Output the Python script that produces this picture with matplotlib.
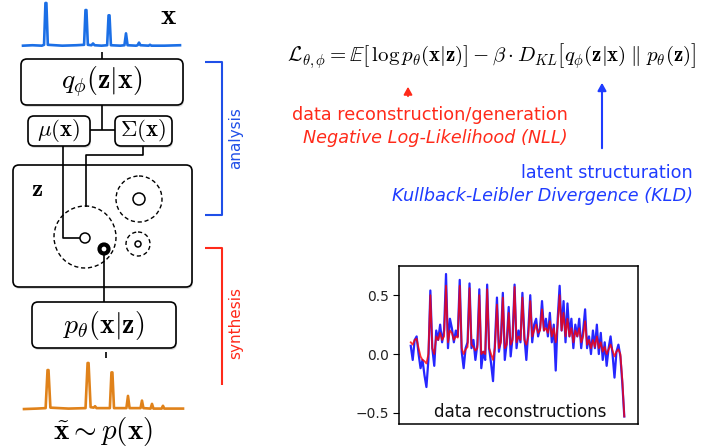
import numpy as np
import matplotlib
matplotlib.use('Agg')
import matplotlib.pyplot as plt
from matplotlib.patches import FancyBboxPatch, Circle

plt.rcParams['mathtext.fontset'] = 'cm'
plt.rcParams['font.family'] = ['DejaVu Sans']

RED = '#ff2a1a'
BLUE = '#1f3cff'

# input spectrum (channel 0..100, normalised intensity)
spec_in_x = [0, 6, 12, 13.4, 14.3, 14.9, 15.8, 25, 34, 38.9, 39.8, 40.4, 41.3,
             43.6, 44.6, 45.6, 50, 53.6, 54.5, 55.1, 56.0, 62, 64.6, 65.6, 66.6,
             72, 73.0, 73.9, 74.8, 80.0, 80.9, 81.8, 90, 100]
spec_in_y = [0.03, 0.04, 0.03, 0.05, 1.0, 1.0, 0.05, 0.03, 0.04, 0.05, 0.84,
             0.84, 0.05, 0.04, 0.08, 0.04, 0.03, 0.04, 0.72, 0.72, 0.04, 0.03,
             0.04, 0.31, 0.04, 0.03, 0.04, 0.1, 0.04, 0.03, 0.05, 0.03, 0.03, 0.04]

# generated spectrum
spec_out_x = [0, 8, 13.6, 14.8, 15.4, 16.6, 28, 38.7, 40.0, 40.6, 41.9, 43.8,
              44.7, 45.6, 54.0, 55.0, 55.6, 56.6, 64.4, 65.4, 66.4, 73.3, 74.2,
              75.1, 79.6, 80.5, 81.4, 86.6, 87.4, 88.2, 94, 100]
spec_out_y = [0.02, 0.03, 0.04, 0.85, 0.85, 0.05, 0.03, 0.04, 1.0, 1.0, 0.06,
              0.05, 0.08, 0.04, 0.04, 0.8, 0.8, 0.04, 0.04, 0.3, 0.04, 0.04,
              0.2, 0.04, 0.03, 0.13, 0.03, 0.03, 0.09, 0.03, 0.03, 0.03]

# reconstruction inset: original (blue) and reconstruction (red)
recon_blue = [0.07, -0.05, 0.12, 0.15, 0.0, -0.12, -0.05, -0.18, -0.28, -0.05,
              0.54, 0.05, -0.1, 0.2, 0.12, 0.25, 0.1, 0.2, 0.68, 0.05,
              0.3, 0.22, 0.1, 0.2, 0.15, 0.63, 0.02, -0.12, 0.05, 0.1,
              0.6, 0.05, 0.12, -0.05, 0.08, 0.55, -0.12, 0.02, -0.05, 0.59,
              0.05, -0.08, -0.23, 0.1, 0.48, 0.02, 0.12, 0.52, -0.05, 0.1,
              0.4, -0.02, 0.15, 0.59, 0.05, 0.2, 0.1, 0.52, 0.15, -0.05,
              0.2, 0.5, 0.1, 0.25, 0.3, 0.15, 0.22, 0.45, 0.2, 0.3,
              0.15, 0.35, 0.1, 0.25, -0.14, 0.3, 0.58, 0.2, 0.45, 0.1,
              0.43, 0.15, 0.3, 0.05, 0.25, 0.15, 0.3, 0.05, 0.2, 0.38,
              0.05, 0.15, 0.0, 0.2, 0.05, 0.25, 0.0, 0.18, -0.05, 0.1,
              -0.1, 0.05, 0.15, 0.0, -0.2, 0.02, 0.08, -0.02, -0.25, -0.53]
recon_red = [0.1, 0.08, 0.12, 0.13, 0.05, -0.02, -0.05, -0.06, -0.08, 0.0,
             0.5, 0.05, 0.0, 0.15, 0.12, 0.18, 0.12, 0.15, 0.58, 0.1,
             0.2, 0.18, 0.12, 0.15, 0.14, 0.58, 0.05, 0.0, 0.04, 0.06,
             0.56, 0.08, 0.06, 0.03, 0.05, 0.5, 0.0, 0.02, 0.0, 0.55,
             0.05, 0.0, -0.05, 0.06, 0.42, 0.05, 0.1, 0.48, 0.05, 0.08,
             0.35, 0.08, 0.12, 0.57, 0.1, 0.15, 0.12, 0.48, 0.12, 0.08,
             0.15, 0.45, 0.15, 0.2, 0.25, 0.18, 0.2, 0.38, 0.2, 0.22,
             0.18, 0.28, 0.15, 0.22, 0.1, 0.25, 0.5, 0.2, 0.35, 0.15,
             0.3, 0.15, 0.22, 0.1, 0.2, 0.15, 0.22, 0.1, 0.15, 0.28,
             0.08, 0.12, 0.05, 0.12, 0.06, 0.15, 0.05, 0.1, 0.02, 0.06,
             0.0, 0.04, 0.08, 0.03, -0.02, 0.02, 0.04, 0.0, -0.22, -0.53]
recon_ticks = [-0.5, 0.0, 0.5]


def box(ax, x0, y0, x1, y1, text, size=15):
    sh = FancyBboxPatch((x0 + 1, y0 + 2), x1 - x0, y1 - y0,
                        boxstyle='round,pad=0,rounding_size=6',
                        fc='#bbbbbb', ec='none', alpha=0.5, zorder=1)
    ax.add_patch(sh)
    p = FancyBboxPatch((x0, y0), x1 - x0, y1 - y0,
                       boxstyle='round,pad=0,rounding_size=6',
                       fc='white', ec='black', lw=1.2, zorder=2)
    ax.add_patch(p)
    if text:
        ax.text((x0 + x1) / 2, (y0 + y1) / 2, text, ha='center', va='center',
                fontsize=size, zorder=3)


def main():
    fig = plt.figure(figsize=(7.06, 4.48), dpi=100)
    ax = fig.add_axes([0, 0, 1, 1])
    ax.set_xlim(0, 706)
    ax.set_ylim(448, 0)
    ax.axis('off')

    def line(xs, ys, **kw):
        kw.setdefault('color', 'black')
        kw.setdefault('lw', 1.2)
        ax.plot(xs, ys, zorder=kw.pop('zorder', 4), solid_capstyle='butt', **kw)

    # encoder / decoder boxes
    box(ax, 21, 59, 183, 105, r'$q_\phi(\mathbf{z}|\mathbf{x})$', 20)
    box(ax, 28, 116, 90, 146, r'$\mu(\mathbf{x})$', 16.5)
    box(ax, 115, 116, 172, 146, r'$\Sigma(\mathbf{x})$', 16.5)
    box(ax, 13, 165, 192, 287, None)
    box(ax, 32, 302, 176, 348, r'$p_\theta(\mathbf{x}|\mathbf{z})$', 20)
    ax.text(37, 189, r'$\mathbf{z}$', fontsize=18, ha='center', va='center', zorder=3)

    line([102, 102], [52, 59])
    line([102, 102], [105, 130])
    line([90, 115], [130, 130])
    line([63, 63, 80], [146, 238, 238])
    line([143, 143, 86, 86], [146, 155, 155, 207])
    line([104, 104], [254, 302])
    line([106, 106], [352, 358])

    # latent space circles
    for cx, cy, r in [(85, 237, 31), (139, 199, 23), (138, 244, 12)]:
        ax.add_patch(Circle((cx, cy), r, fc='none', ec='black', lw=1.0,
                            ls=(0, (3, 2)), zorder=3))
    for cx, cy, r in [(85, 238, 5), (139, 199, 6), (138, 244, 3)]:
        ax.add_patch(Circle((cx, cy), r, fc='white', ec='black', lw=1.1, zorder=5))
    ax.add_patch(Circle((104, 249), 4.5, fc='white', ec='black', lw=3, zorder=5))

    # spectra
    a1 = fig.add_axes([23 / 706, 1 - 47 / 448, 157 / 706, 44 / 448])
    a1.plot(spec_in_x, spec_in_y, color='#1b6fe6', lw=1.9, clip_on=False)
    a1.set_xlim(0, 100)
    a1.set_ylim(0, 1)
    a1.axis('off')
    ax.text(168, 16, r'$\mathbf{x}$', fontsize=21, ha='center', va='center')

    a2 = fig.add_axes([24 / 706, 1 - 410 / 448, 159 / 706, 47 / 448])
    a2.plot(spec_out_x, spec_out_y, color='#e0821a', lw=1.9, clip_on=False)
    a2.set_xlim(0, 100)
    a2.set_ylim(0, 1)
    a2.axis('off')
    ax.text(103, 431, r'$\tilde{\mathbf{x}} \sim p(\mathbf{x})$', fontsize=21,
            ha='center', va='center')

    # brackets
    line([205, 222, 222, 205], [62, 62, 215, 215], color='#1f4fe8', lw=1.5)
    ax.text(236, 138, 'analysis', rotation=90, color='#1f4fe8', fontsize=11,
            ha='center', va='center')
    line([205, 222, 222], [248, 248, 385], color=RED, lw=1.5)
    ax.text(236, 323, 'synthesis', rotation=90, color=RED, fontsize=11,
            ha='center', va='center')

    # objective
    ax.text(492, 56, r'$\mathcal{L}_{\theta,\phi} = \mathbb{E}\left[\,\log p_\theta(\mathbf{x}|\mathbf{z})\right]'
            r' - \beta\cdot D_{KL}\left[q_\phi(\mathbf{z}|\mathbf{x})\;\|\;p_\theta(\mathbf{z})\right]$',
            fontsize=15, ha='center', va='center')
    ax.annotate('', xy=(408, 84), xytext=(408, 99),
                arrowprops=dict(arrowstyle='-|>,head_width=0.25,head_length=0.45',
                                color=RED, lw=1.3))
    ax.annotate('', xy=(602, 80), xytext=(602, 151),
                arrowprops=dict(arrowstyle='-|>,head_width=0.25,head_length=0.45',
                                color=BLUE, lw=1.5))
    ax.text(568, 115, 'data reconstruction/generation', color=RED, fontsize=12.7,
            ha='right', va='center')
    ax.text(568, 138, 'Negative Log-Likelihood (NLL)', color=RED, fontsize=12.7,
            style='italic', ha='right', va='center')
    ax.text(693, 173, 'latent structuration', color=BLUE, fontsize=12.7,
            ha='right', va='center')
    ax.text(693, 196, 'Kullback-Leibler Divergence (KLD)', color=BLUE, fontsize=12.7,
            style='italic', ha='right', va='center')

    # reconstruction inset
    a3 = fig.add_axes([399 / 706, 1 - 424 / 448, 239 / 706, 158 / 448])
    a3.plot(np.arange(len(recon_blue)), recon_blue, color='#0000ff', lw=1.6, alpha=0.85)
    a3.plot(np.arange(len(recon_red)), recon_red, color='#ff0000', lw=1.3, alpha=0.8)
    a3.set_xlim(-6, 116)
    a3.set_ylim(-0.594, 0.748)
    a3.set_xticks([])
    a3.set_yticks(recon_ticks)
    a3.set_yticklabels(['\u22120.5', '0.0', '0.5'])
    a3.tick_params(axis='y', labelsize=10, length=4, labelcolor='#222222')
    for s in a3.spines.values():
        s.set_linewidth(1.1)
    a3.text(0.506, 0.076, 'data reconstructions', transform=a3.transAxes,
            fontsize=12.1, ha='center', va='center', color='#111111')

    fig.savefig('out.png', dpi=100)


if __name__ == "__main__":
    main()
